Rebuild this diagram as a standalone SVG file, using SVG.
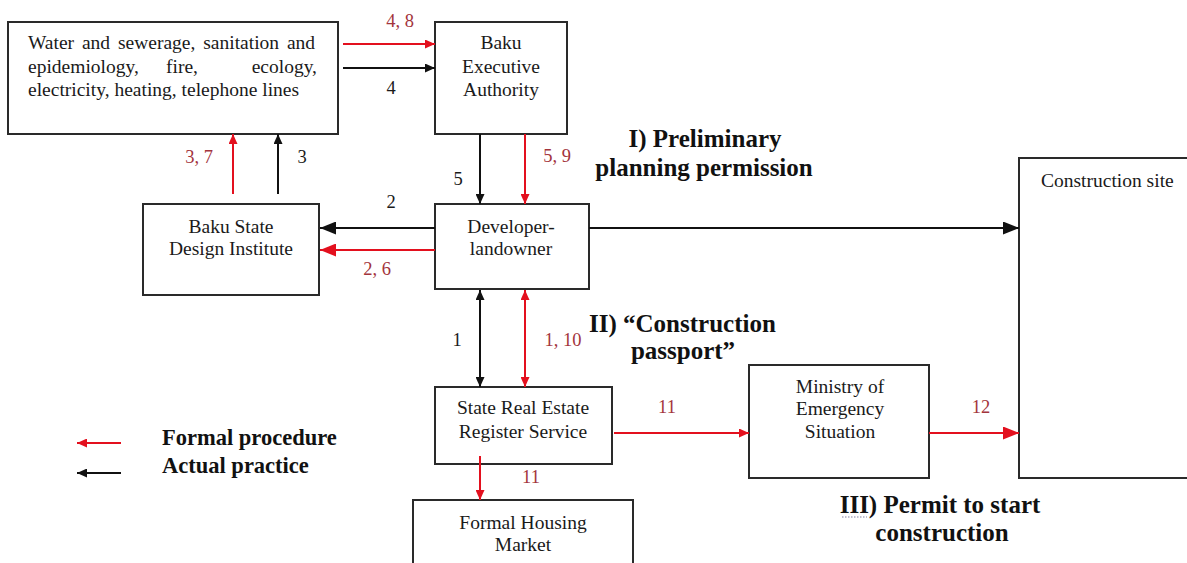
<svg xmlns="http://www.w3.org/2000/svg" width="1187" height="563" viewBox="0 0 1187 563">
<style>
.box{fill:#fff;stroke:#2a2a2a;stroke-width:2}
.t{font-family:"Liberation Serif","Times New Roman",serif;font-size:19.5px;fill:#1a1a1a}
.c{text-anchor:middle}
.lr{font-family:"Liberation Serif","Times New Roman",serif;font-size:18.5px;fill:#a3343c;text-anchor:middle}
.lb{font-family:"Liberation Serif","Times New Roman",serif;font-size:18.5px;fill:#1a1a1a;text-anchor:middle}
.h{font-family:"Liberation Serif","Times New Roman",serif;font-size:25px;font-weight:bold;fill:#111}
.lg{font-family:"Liberation Serif","Times New Roman",serif;font-size:22.5px;font-weight:bold;fill:#111}
.r{stroke:#e3101e;stroke-width:2;fill:none}
.k{stroke:#111;stroke-width:2;fill:none}
</style>
<defs>
<marker id="rs" markerUnits="userSpaceOnUse" markerWidth="10" markerHeight="9" refX="10" refY="4.5" orient="auto-start-reverse"><path d="M0,0 L10,4.5 L0,9 Z" fill="#e3101e"/></marker>
<marker id="ks" markerUnits="userSpaceOnUse" markerWidth="10" markerHeight="9" refX="10" refY="4.5" orient="auto-start-reverse"><path d="M0,0 L10,4.5 L0,9 Z" fill="#111"/></marker>
<marker id="rb" markerUnits="userSpaceOnUse" markerWidth="16" markerHeight="13" refX="16" refY="6.5" orient="auto"><path d="M0,0 L16,6.5 L0,13 Z" fill="#e3101e"/></marker>
<marker id="kb" markerUnits="userSpaceOnUse" markerWidth="16" markerHeight="13" refX="16" refY="6.5" orient="auto"><path d="M0,0 L16,6.5 L0,13 Z" fill="#111"/></marker>
</defs>
<rect width="1187" height="563" fill="#fff"/>

<g id="water">
<rect class="box" x="8" y="22" width="330" height="112"/>
<text class="t" x="28" y="49" word-spacing="3">Water and sewerage, sanitation and</text>
<text class="t" x="28" y="73">epidemiology,</text>
<text class="t" x="182" y="73" text-anchor="middle">fire,</text>
<text class="t" x="317" y="73" text-anchor="end">ecology,</text>
<text class="t" x="28" y="96">electricity, heating, telephone lines</text>
</g>
<g id="exec">
<rect class="box" x="435" y="22" width="132" height="112"/>
<text class="t c" x="501" y="49">Baku</text>
<text class="t c" x="501" y="73">Executive</text>
<text class="t c" x="501" y="96">Authority</text>
</g>
<g id="bsdi">
<rect class="box" x="143" y="204" width="176" height="91"/>
<text class="t c" x="231" y="233">Baku State</text>
<text class="t c" x="231" y="255">Design Institute</text>
</g>
<g id="dev">
<rect class="box" x="435" y="204" width="154" height="85"/>
<text class="t c" x="511" y="233">Developer-</text>
<text class="t c" x="511" y="255">landowner</text>
</g>
<g id="srers">
<rect class="box" x="435" y="387" width="177" height="77"/>
<text class="t c" x="523" y="414">State Real Estate</text>
<text class="t c" x="523" y="438">Register Service</text>
</g>
<g id="ministry">
<rect class="box" x="749" y="365" width="180" height="113"/>
<text class="t c" x="840" y="393">Ministry of</text>
<text class="t c" x="840" y="415">Emergency</text>
<text class="t c" x="840" y="438">Situation</text>
</g>
<g id="fhm">
<rect class="box" x="413" y="500" width="220" height="80"/>
<text class="t c" x="523" y="529">Formal Housing</text>
<text class="t c" x="523" y="551">Market</text>
</g>
<g id="site">
<rect class="box" x="1019" y="158" width="190" height="320"/>
<text class="t" x="1041" y="187">Construction site</text>
</g>

<g id="connectors">
<line class="r" x1="343" y1="44" x2="435" y2="44" marker-end="url(#rs)"/>
<line class="k" x1="343" y1="68" x2="435" y2="68" marker-end="url(#ks)"/>
<line class="r" x1="233" y1="194" x2="233" y2="134" marker-end="url(#rs)"/>
<line class="k" x1="278" y1="194" x2="278" y2="134" marker-end="url(#ks)"/>
<line class="k" x1="480" y1="134" x2="480" y2="204" marker-end="url(#ks)"/>
<line class="r" x1="525" y1="134" x2="525" y2="204" marker-end="url(#rs)"/>
<line class="k" x1="435" y1="228" x2="320" y2="228" marker-end="url(#kb)"/>
<line class="r" x1="435" y1="250" x2="320" y2="250" marker-end="url(#rb)"/>
<line class="k" x1="589" y1="228" x2="1019" y2="228" marker-end="url(#kb)"/>
<line class="k" x1="480" y1="290" x2="480" y2="387" marker-start="url(#ks)" marker-end="url(#ks)"/>
<line class="r" x1="525" y1="290" x2="525" y2="387" marker-start="url(#rs)" marker-end="url(#rs)"/>
<line class="r" x1="614" y1="433" x2="749" y2="433" marker-end="url(#rs)"/>
<line class="r" x1="929" y1="433" x2="1019" y2="433" marker-end="url(#rb)"/>
<line class="r" x1="480" y1="456" x2="480" y2="500" marker-end="url(#rs)"/>
<line class="r" x1="121" y1="443" x2="77" y2="443" marker-end="url(#rs)"/>
<line class="k" x1="121" y1="473" x2="77" y2="473" marker-end="url(#ks)"/>
</g>

<g id="labels">
<text class="lr" x="400" y="27">4, 8</text>
<text class="lb" x="391" y="94">4</text>
<text class="lr" x="199" y="163">3, 7</text>
<text class="lb" x="302" y="163">3</text>
<text class="lb" x="458" y="185">5</text>
<text class="lr" x="557" y="162">5, 9</text>
<text class="lb" x="391" y="208">2</text>
<text class="lr" x="377" y="275">2, 6</text>
<text class="lb" x="457" y="346">1</text>
<text class="lr" x="563" y="346">1, 10</text>
<text class="lr" x="667" y="413">11</text>
<text class="lr" x="531" y="483">11</text>
<text class="lr" x="981" y="413">12</text>
</g>

<g id="headings">
<text class="h" x="705" y="147" text-anchor="middle">I) Preliminary</text>
<text class="h" x="704" y="176" text-anchor="middle">planning permission</text>
<text class="h" x="589" y="332">II) “Construction</text>
<text class="h" x="683" y="359" text-anchor="middle">passport”</text>
<text class="h" x="940" y="513" text-anchor="middle">III) Permit to start</text>
<text class="h" x="942" y="541" text-anchor="middle">construction</text>
<line x1="842" y1="517" x2="867" y2="517" stroke="#8080a0" stroke-width="1.2" stroke-dasharray="1.5 1.5"/>
</g>

<g id="legend">
<text class="lg" x="162" y="445">Formal procedure</text>
<text class="lg" x="162" y="473">Actual practice</text>
</g>
</svg>
